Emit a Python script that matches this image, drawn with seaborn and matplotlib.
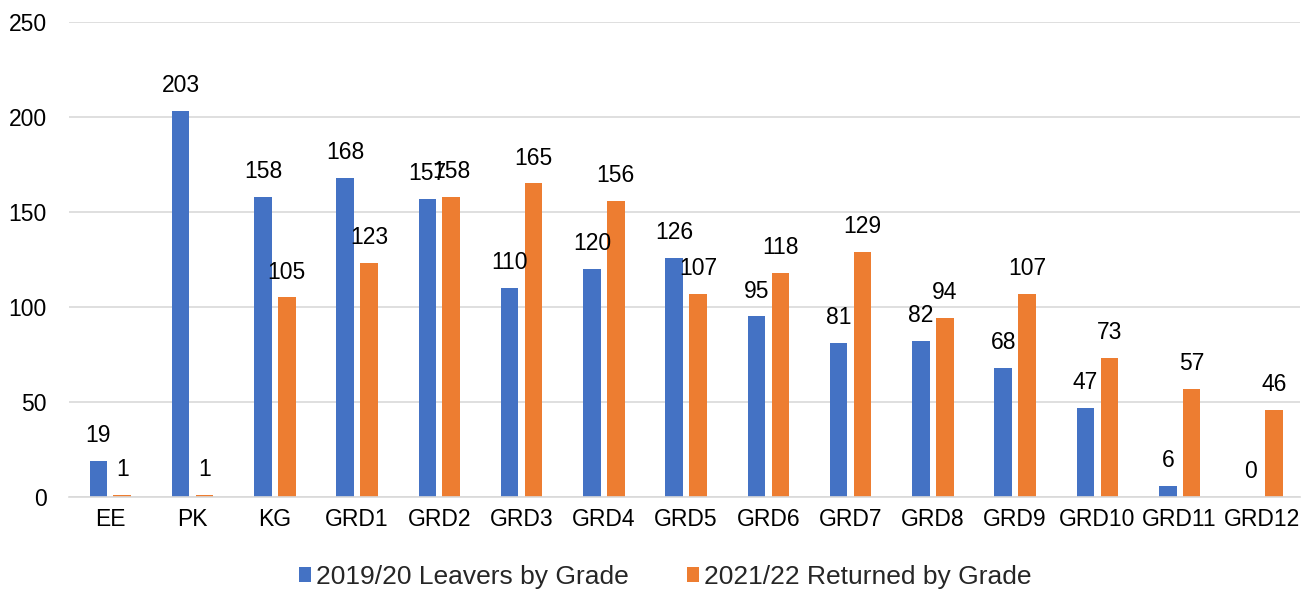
import matplotlib.pyplot as plt
import numpy as np
import seaborn as sns
import pandas as pd

grades = ["EE", "PK", "KG", "GRD1", "GRD2", "GRD3", "GRD4", "GRD5", "GRD6",
          "GRD7", "GRD8", "GRD9", "GRD10", "GRD11", "GRD12"]
leavers = [19, 203, 158, 168, 157, 110, 120, 126, 95, 81, 82, 68, 47, 6, 0]
returned = [1, 1, 105, 123, 158, 165, 156, 107, 118, 129, 94, 107, 73, 57, 46]
series = ["2019/20 Leavers by Grade", "2021/22 Returned by Grade"]
colors = ["#4472C4", "#ED7D31"]

sns.set_theme(style="white")
plt.rcParams["font.family"] = ["Liberation Sans", "DejaVu Sans"]

df = pd.DataFrame({
    "grade": grades * 2,
    "value": leavers + returned,
    "series": [series[0]] * len(grades) + [series[1]] * len(grades),
})

fig = plt.figure(figsize=(13.05, 5.93), dpi=100)
ax = fig.add_axes([0.053, 0.162, 0.943, 0.801])
sns.barplot(data=df, x="grade", y="value", hue="series", palette=colors,
            width=0.58, gap=0.265, ax=ax, saturation=1, errorbar=None,
            linewidth=0)

for cont in ax.containers:
    ax.bar_label(cont, padding=10, fontsize=16.5, color="#000000")

ax.set_ylim(0, 250)
ax.set_yticks(range(0, 251, 50))
ax.set_xlim(-0.5, 14.46)
ax.yaxis.grid(True, color="#D9D9D9", linewidth=1.2)
ax.set_axisbelow(True)
for s in ["top", "right", "left"]:
    ax.spines[s].set_visible(False)
ax.spines["bottom"].set_color("#D9D9D9")
ax.spines["bottom"].set_linewidth(1.2)
ax.tick_params(axis="both", labelsize=16.5, colors="#000000", length=0)
ax.tick_params(axis="y", pad=16)
ax.tick_params(axis="x", pad=8)
ax.set_xlabel("")
ax.set_ylabel("")

handles, labels = ax.get_legend_handles_labels()
ax.get_legend().remove()
fig.legend(handles, labels, loc="center", bbox_to_anchor=(0.51, 0.027), ncol=2,
           frameon=False, fontsize=19, handlelength=0.45, handleheight=0.45,
           columnspacing=2.2, handletextpad=0.2)

plt.savefig("out.png", dpi=100)
